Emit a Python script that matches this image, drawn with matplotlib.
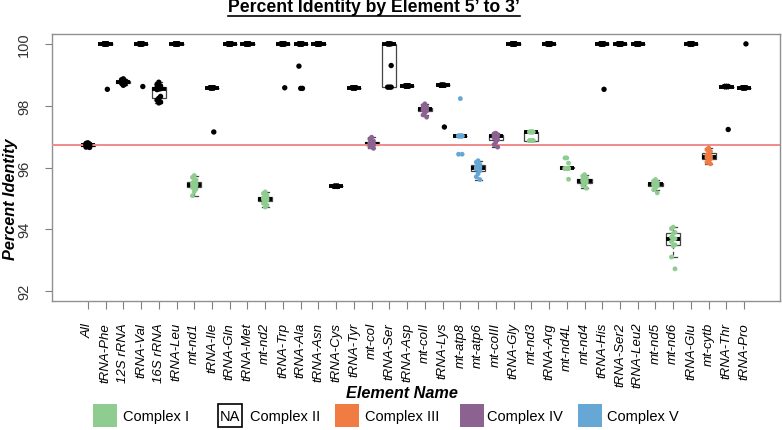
import matplotlib
matplotlib.use("Agg")
import matplotlib.pyplot as plt
import matplotlib.patches as mpatches
from matplotlib.lines import Line2D
import numpy as np

# ── Data ──────────────────────────────────────────────────────────────────────
elements = ["All", "tRNA-Phe", "12S rRNA", "tRNA-Val", "16S rRNA", "tRNA-Leu",
            "mt-nd1", "tRNA-Ile", "tRNA-Gln", "tRNA-Met", "mt-nd2", "tRNA-Trp",
            "tRNA-Ala", "tRNA-Asn", "tRNA-Cys", "tRNA-Tyr", "mt-coI", "tRNA-Ser",
            "tRNA-Asp", "mt-coII", "tRNA-Lys", "mt-atp8", "mt-atp6", "mt-coIII",
            "tRNA-Gly", "mt-nd3", "tRNA-Arg", "mt-nd4L", "mt-nd4", "tRNA-His",
            "tRNA-Ser2", "tRNA-Leu2", "mt-nd5", "mt-nd6", "tRNA-Glu", "mt-cytb",
            "tRNA-Thr", "tRNA-Pro"]

# complex membership per element (0 = not part of a complex)
complex_of = [0, 0, 0, 0, 0, 0,
              1, 0, 0, 0, 1, 0,
              0, 0, 0, 0, 4, 0,
              0, 4, 0, 5, 5, 4,
              0, 1, 0, 1, 1, 0,
              0, 0, 1, 1, 0, 3,
              0, 0]

all_vals  = [96.80, 96.78, 96.76, 96.75, 96.74, 96.74, 96.73, 96.72, 96.70, 96.68, 96.66, 96.65]
trna_phe  = [100] * 11 + [98.53]
rrna_12s  = [98.87, 98.84, 98.80, 98.78, 98.77, 98.76, 98.75, 98.73, 98.70, 98.66]
trna_val  = [100] * 11 + [98.62]
rrna_16s  = [98.76, 98.68, 98.64, 98.62, 98.58, 98.55, 98.54, 98.52, 98.30, 98.24, 98.18, 98.12, 98.09]
trna_leu  = [100] * 12
mt_nd1    = [95.74, 95.68, 95.60, 95.55, 95.50, 95.47, 95.45, 95.44, 95.42, 95.38, 95.35, 95.30, 95.22, 95.09]
trna_ile  = [98.58] * 11 + [97.15]
trna_gln  = [100] * 12
trna_met  = [100] * 12
mt_nd2    = [95.21, 95.16, 95.10, 95.05, 95.02, 95.00, 94.99, 94.97, 94.95, 94.90, 94.84, 94.78, 94.72]
trna_trp  = [100] * 11 + [98.58]
trna_ala  = [100] * 10 + [99.28, 98.56, 98.56]
trna_asn  = [100] * 12
trna_cys  = [95.39] * 12
trna_tyr  = [98.58] * 12
mt_co1    = [96.98, 96.92, 96.86, 96.82, 96.79, 96.77, 96.75, 96.74, 96.72, 96.70, 96.67, 96.62]
trna_ser  = [100] * 5 + [99.30] + [98.60] * 3
trna_asp  = [98.64] * 12
mt_co2    = [98.06, 98.00, 97.96, 97.93, 97.91, 97.90, 97.89, 97.86, 97.83, 97.78, 97.70, 97.63]
trna_lys  = [98.66] * 11 + [97.31]
mt_atp8   = [98.23] + [97.02] * 9 + [96.43] * 2
mt_atp6   = [96.22, 96.17, 96.10, 96.06, 96.02, 96.00, 95.98, 95.95, 95.90, 95.80, 95.70, 95.61]
mt_co3    = [97.11, 97.09, 97.06, 97.04, 97.03, 97.02, 97.00, 96.96, 96.90, 96.82, 96.74, 96.66]
trna_gly  = [100] * 12
mt_nd3    = [97.15] * 7 + [96.87] * 5
trna_arg  = [100] * 12
mt_nd4l   = [96.31, 96.31, 96.14] + [95.97] * 8 + [95.62]
mt_nd4    = [95.77, 95.72, 95.67, 95.63, 95.60, 95.58, 95.57, 95.55, 95.52, 95.49, 95.42, 95.33]
trna_his  = [100] * 11 + [98.53]
trna_ser2 = [100] * 12
trna_leu2 = [100] * 12
mt_nd5    = [95.61, 95.56, 95.52, 95.50, 95.48, 95.46, 95.45, 95.43, 95.40, 95.35, 95.28, 95.18]
mt_nd6    = [94.07, 94.02, 93.90, 93.86, 93.75, 93.70, 93.68, 93.60, 93.50, 93.46, 93.10, 92.72]
trna_glu  = [100] * 12
mt_cytb   = [96.63, 96.58, 96.52, 96.46, 96.40, 96.36, 96.34, 96.32, 96.28, 96.22, 96.17, 96.12]
trna_thr  = [98.62] * 11 + [97.23]
trna_pro  = [98.58] * 11 + [100]

reference_line = 96.74

legend_labels = ["Complex I", "Complex II", "Complex III", "Complex IV", "Complex V"]

values = [all_vals, trna_phe, rrna_12s, trna_val, rrna_16s, trna_leu,
          mt_nd1, trna_ile, trna_gln, trna_met, mt_nd2, trna_trp,
          trna_ala, trna_asn, trna_cys, trna_tyr, mt_co1, trna_ser,
          trna_asp, mt_co2, trna_lys, mt_atp8, mt_atp6, mt_co3,
          trna_gly, mt_nd3, trna_arg, mt_nd4l, mt_nd4, trna_his,
          trna_ser2, trna_leu2, mt_nd5, mt_nd6, trna_glu, mt_cytb,
          trna_thr, trna_pro]

# ── Style ─────────────────────────────────────────────────────────────────────
COMPLEX_COLORS = {0: "black", 1: "#8FCC8F", 3: "#F07B43", 4: "#8C6291", 5: "#66A7D6"}
plt.rcParams["font.family"] = ["Liberation Sans", "DejaVu Sans"]

W, H = 782, 431
fig = plt.figure(figsize=(W / 100, H / 100), dpi=100)


def fx(px):
    return px / W


def fy(py):
    return 1 - py / H


ax = fig.add_axes([fx(52), fy(302), fx(780) - fx(52), fy(35) - fy(302)])

pos = np.arange(1, len(elements) + 1)
ax.boxplot(values, positions=pos, widths=0.8, showfliers=False,
           patch_artist=True,
           boxprops=dict(facecolor="white", edgecolor="#444444", linewidth=0.9),
           medianprops=dict(color="black", linewidth=2.8, solid_capstyle="butt"),
           whiskerprops=dict(color="#444444", linewidth=0.9, linestyle=(0, (3, 2))),
           capprops=dict(color="#444444", linewidth=0.9),
           capwidths=0.4, zorder=2)

ax.axhline(reference_line, color="#F28A8A", linewidth=1.4, zorder=3)

# small fixed horizontal spread so overlapping samples stay visible
offsets = [0.0, -0.1, 0.1]
for p, vals, cx in zip(pos, values, complex_of):
    xs = [p + offsets[i % 3] for i in range(len(vals))]
    size = 15 if cx == 0 else 12
    ax.scatter(xs, vals, s=size, color=COMPLEX_COLORS[cx], edgecolors="none", zorder=4)

ax.set_xlim(-1.02, 40.02)
ax.set_ylim(91.68, 100.32)
ax.set_xticks(pos)
ax.set_xticklabels(elements, rotation=90, style="italic", fontsize=9.5)
ax.set_yticks([92, 94, 96, 98, 100])
ax.set_yticklabels(["92", "94", "96", "98", "100"], rotation=90, va="center",
                   fontsize=10.5, color="#333333")
ax.tick_params(axis="x", length=6, width=0.8, color="#808080", pad=9)
ax.tick_params(axis="y", length=5, width=0.8, color="#808080", pad=10)
for sp in ax.spines.values():
    sp.set_color("#909090")
    sp.set_linewidth(1.0)

# titles and axis names
title = fig.text(fx(374), fy(8), "Percent Identity by Element 5\u2019 to 3\u2019",
                 ha="center", va="center", fontsize=12.7, fontweight="bold")
fig.text(fx(11), fy(199), "Percent Identity", rotation=90, ha="center", va="center",
         fontsize=11.7, fontweight="bold", style="italic")
fig.text(fx(402), fy(394), "Element Name", ha="center", va="center",
         fontsize=11.7, fontweight="bold", style="italic")

# underline the title
fig.canvas.draw()
bb = title.get_window_extent().transformed(fig.transFigure.inverted())
fig.add_artist(Line2D([bb.x0, bb.x1], [fy(16.5), fy(16.5)],
                      transform=fig.transFigure, color="black", linewidth=1.2))

# legend drawn by hand
legend_items = [(93, COMPLEX_COLORS[1], 123), (218, None, 250),
                (335, COMPLEX_COLORS[3], 365), (460, COMPLEX_COLORS[4], 487),
                (578, COMPLEX_COLORS[5], 607)]
for (x0, col, tx), lab in zip(legend_items, legend_labels):
    if col is None:
        fig.add_artist(mpatches.Rectangle((fx(x0), fy(428)), fx(24), 23 / H,
                                          transform=fig.transFigure, facecolor="white",
                                          edgecolor="black", linewidth=1.2))
        fig.text(fx(x0 + 12), fy(417), "NA", ha="center", va="center", fontsize=10.5)
    else:
        fig.add_artist(mpatches.Rectangle((fx(x0), fy(428)), fx(24), 23 / H,
                                          transform=fig.transFigure, facecolor=col,
                                          edgecolor="none"))
    fig.text(fx(tx), fy(417), lab, ha="left", va="center", fontsize=10.5)

fig.savefig("out.png", dpi=100)
